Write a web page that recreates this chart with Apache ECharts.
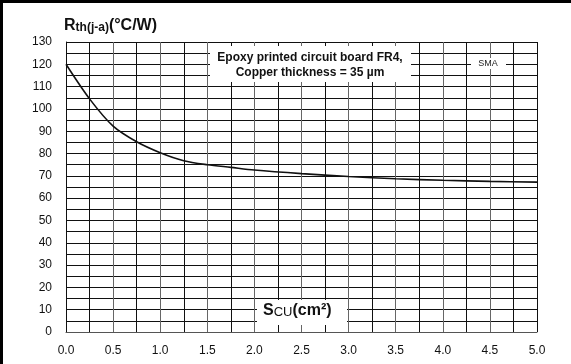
<!DOCTYPE html>
<html>
<head>
<meta charset="utf-8">
<script src="https://cdn.jsdelivr.net/npm/echarts@6/dist/echarts.min.js"></script>
<style>
html,body{margin:0;padding:0;background:#fff;}
#c{width:571px;height:364px;}
</style>
</head>
<body>
<div id="c"></div>
<script>
var xValues = [0, 0.25, 0.5, 0.75, 1.0, 1.25, 1.5, 1.75, 2.0, 2.5, 3.0, 3.5, 4.0, 4.5, 5.0];
var rthValues = [120, 104.5, 92.3, 85.3, 80.4, 76.8, 75.0, 73.8, 72.6, 71.0, 69.7, 68.7, 68.0, 67.5, 67.2];
var annotationLines = ['Epoxy printed circuit board FR4,', 'Copper thickness = 35 µm'];
var packageLabel = 'SMA';

var FONT = '"Liberation Sans", Arial, Helvetica, sans-serif';
var chart = echarts.init(document.getElementById('c'), null, {renderer: 'canvas'});
var seriesData = xValues.map(function (x, i) { return [x, rthValues[i]]; });

var option = {
  animation: false,
  backgroundColor: '#fff',
  grid: {left: 66, right: 34, top: 42, bottom: 32, show: false},
  xAxis: {
    type: 'value', min: 0, max: 5, interval: 0.5,
    axisLine: {show: true, onZero: false, lineStyle: {color: '#555', width: 1}},
    axisTick: {show: false},
    axisLabel: {margin: 13, color: '#111', fontSize: 12, fontFamily: FONT,
      formatter: function (v) { return v.toFixed(1); }},
    splitLine: {show: true, lineStyle: {color: '#666', width: 1}},
    minorTick: {show: false, splitNumber: 2},
    minorSplitLine: {show: true, lineStyle: {color: '#111', width: 1}}
  },
  yAxis: {
    type: 'value', min: 0, max: 130, interval: 10,
    axisLine: {show: true, lineStyle: {color: '#111', width: 1}},
    axisTick: {show: false},
    axisLabel: {margin: 14, color: '#111', fontSize: 12, fontFamily: FONT},
    splitLine: {show: true, lineStyle: {color: '#111', width: 1}},
    minorTick: {show: false, splitNumber: 2},
    minorSplitLine: {show: true, lineStyle: {color: '#111', width: 1}}
  },
  series: [{
    type: 'line',
    data: seriesData,
    smooth: 0.3,
    showSymbol: false,
    lineStyle: {color: '#111', width: 1.6},
    z: 5
  }],
  graphic: [
    {type: 'line', z: 100, shape: {x1: 1.5, y1: 0, x2: 1.5, y2: 364},
      style: {stroke: '#000', lineWidth: 3}},
    {type: 'line', z: 100, shape: {x1: 0, y1: 1.5, x2: 571, y2: 1.5},
      style: {stroke: '#000', lineWidth: 3}},
    {type: 'line', z: 100, shape: {x1: 537.5, y1: 42, x2: 537.5, y2: 332},
      style: {stroke: '#111', lineWidth: 1}},
    {type: 'text', z: 100, left: 64, top: 16,
      style: {
        text: '{a|R}{b|th(j-a)}{a|(°C/W)}',
        rich: {
          a: {fontSize: 16, fontWeight: 'bold', fontFamily: FONT, fill: '#111', verticalAlign: 'bottom', lineHeight: 20},
          b: {fontSize: 12, fontWeight: 'bold', fontFamily: FONT, fill: '#111', padding: [6, 0, 0, 0], verticalAlign: 'bottom', lineHeight: 20}
        }
      }},
    {type: 'rect', z: 100, shape: {x: 210, y: 46, width: 201, height: 36},
      style: {fill: '#fff'}},
    {type: 'text', z: 101, style: {
      text: annotationLines.join('\n'), x: 310, y: 65, align: 'center', verticalAlign: 'middle',
      font: 'bold 12px ' + FONT, fill: '#111', lineHeight: 15}},
    {type: 'rect', z: 100, shape: {x: 471, y: 58, width: 35, height: 11},
      style: {fill: '#fff'}},
    {type: 'text', z: 101, style: {
      text: packageLabel, x: 488, y: 63.5, align: 'center', verticalAlign: 'middle',
      font: '9px ' + FONT, fill: '#222'}},
    {type: 'rect', z: 100, shape: {x: 257, y: 300, width: 90, height: 25},
      style: {fill: '#fff'}},
    {type: 'text', z: 101, left: 263, top: 302,
      style: {
        text: '{a|S}{b|CU}{a|(cm²)}',
        rich: {
          a: {fontSize: 16, fontWeight: 'bold', fontFamily: FONT, fill: '#111', verticalAlign: 'bottom', lineHeight: 20},
          b: {fontSize: 13, fontWeight: 'normal', fontFamily: FONT, fill: '#111', padding: [4, 0, 0, 0], verticalAlign: 'bottom', lineHeight: 20}
        }
      }}
  ]
};
chart.setOption(option);
</script>
</body>
</html>
